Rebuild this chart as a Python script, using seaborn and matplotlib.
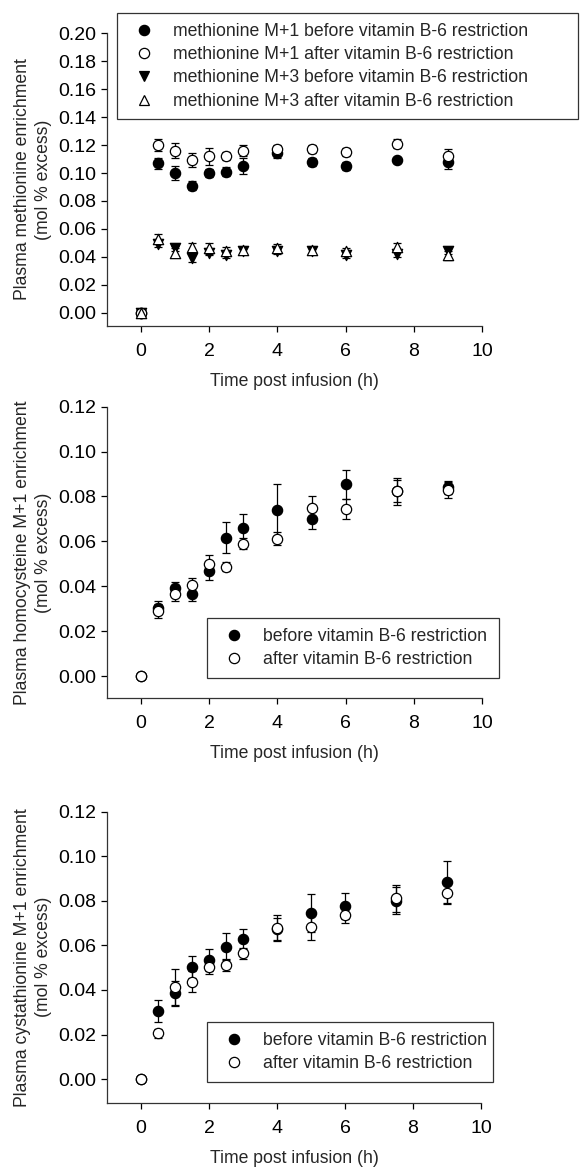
import numpy as np
import pandas as pd
import matplotlib
matplotlib.use("Agg")
import matplotlib.pyplot as plt
from matplotlib.lines import Line2D
import seaborn as sns

# ---------------- data ----------------
time_h = [0, 0.5, 1, 1.5, 2, 2.5, 3, 4, 5, 6, 7.5, 9]

met_m1_before = [0.000, 0.107, 0.100, 0.091, 0.100, 0.101, 0.105, 0.114, 0.108, 0.105, 0.109, 0.108]
met_m1_before_sem = [0.000, 0.004, 0.005, 0.003, 0.003, 0.003, 0.006, 0.003, 0.003, 0.003, 0.002, 0.005]
met_m1_after = [0.000, 0.120, 0.116, 0.109, 0.112, 0.112, 0.116, 0.117, 0.117, 0.115, 0.121, 0.112]
met_m1_after_sem = [0.000, 0.0045, 0.0055, 0.005, 0.006, 0.003, 0.004, 0.003, 0.003, 0.003, 0.003, 0.005]
met_m3_before = [0.000, 0.049, 0.046, 0.039, 0.043, 0.041, 0.044, 0.044, 0.044, 0.041, 0.042, 0.044]
met_m3_before_sem = [0.000, 0.002, 0.002, 0.003, 0.002, 0.002, 0.002, 0.002, 0.002, 0.002, 0.002, 0.002]
met_m3_after = [0.000, 0.053, 0.043, 0.047, 0.046, 0.044, 0.045, 0.046, 0.045, 0.044, 0.047, 0.041]
met_m3_after_sem = [0.000, 0.003, 0.003, 0.003, 0.004, 0.003, 0.002, 0.003, 0.002, 0.002, 0.003, 0.003]

hcy_before = [0.000, 0.0305, 0.039, 0.0365, 0.047, 0.0616, 0.066, 0.074, 0.070, 0.0855, 0.0825, 0.084]
hcy_before_sem = [0.000, 0.003, 0.003, 0.003, 0.004, 0.007, 0.006, 0.0115, 0.0045, 0.0065, 0.005, 0.003]
hcy_after = [0.000, 0.029, 0.0367, 0.0407, 0.0498, 0.0486, 0.059, 0.0612, 0.0748, 0.0744, 0.0824, 0.083]
hcy_after_sem = [0.000, 0.003, 0.0035, 0.003, 0.004, 0.002, 0.0025, 0.003, 0.0055, 0.0045, 0.006, 0.0035]

cys_before = [0.000, 0.0307, 0.0385, 0.0504, 0.0534, 0.0594, 0.0629, 0.0675, 0.0747, 0.0777, 0.080, 0.0883]
cys_before_sem = [0.000, 0.005, 0.0055, 0.005, 0.005, 0.006, 0.0045, 0.005, 0.0085, 0.0057, 0.006, 0.0095]
cys_after = [0.000, 0.0205, 0.0412, 0.0437, 0.0502, 0.0512, 0.0564, 0.0677, 0.0681, 0.0736, 0.0811, 0.0837]
cys_after_sem = [0.000, 0.002, 0.008, 0.0048, 0.003, 0.0025, 0.0025, 0.0058, 0.0057, 0.0035, 0.006, 0.0048]

xticks = [0, 2, 4, 6, 8, 10]
xlabel = "Time post infusion (h)"
ylabel_top = "Plasma methionine enrichment\n(mol % excess)"
ylabel_mid = "Plasma homocysteine M+1 enrichment\n(mol % excess)"
ylabel_bot = "Plasma cystathionine M+1 enrichment\n(mol % excess)"

top_labels = ["methionine M+1 before vitamin B-6 restriction",
              "methionine M+1 after vitamin B-6 restriction",
              "methionine M+3 before vitamin B-6 restriction",
              "methionine M+3 after vitamin B-6 restriction"]
pair_labels = ["before vitamin B-6 restriction", "after vitamin B-6 restriction"]

# ---------------- style ----------------
sns.set_style("ticks")
plt.rcParams["font.family"] = ["Liberation Sans", "DejaVu Sans"]
FS = 12.7
TFS = 14
plt.rcParams.update({
    "font.size": FS,
    "axes.linewidth": 0.9,
    "axes.edgecolor": "#333333",
    "xtick.major.size": 4.5,
    "ytick.major.size": 4.5,
    "xtick.major.width": 0.9,
    "ytick.major.width": 0.9,
    "xtick.major.pad": 8,
    "ytick.major.pad": 3.5,
    "xtick.labelsize": TFS,
    "ytick.labelsize": TFS,
})

W, H = 582, 1167
fig = plt.figure(figsize=(W / 100, H / 100), dpi=100)


def add_ax(left_px, right_px, top_px, bottom_px):
    return fig.add_axes([left_px / W, 1 - bottom_px / H,
                         (right_px - left_px) / W, (bottom_px - top_px) / H])


ax1 = add_ax(107, 482, 33.3, 325.7)
ax2 = add_ax(107, 482, 406.7, 698)
ax3 = add_ax(107, 481, 811.7, 1102.7)

MS = 55
EW = 0.9


def series(ax, y, e, marker, filled):
    ax.errorbar(time_h, y, yerr=e, fmt="none", ecolor="black", elinewidth=EW,
                capsize=3.2, capthick=EW, zorder=2)
    df = pd.DataFrame({"t": time_h, "v": y})
    sns.scatterplot(data=df, x="t", y="v", ax=ax, marker=marker, s=MS,
                    color="black" if filled else "white", edgecolor="black",
                    linewidth=0.9, zorder=3, legend=False)


series(ax1, met_m1_before, met_m1_before_sem, "o", True)
series(ax1, met_m3_before, met_m3_before_sem, "v", True)
series(ax1, met_m1_after, met_m1_after_sem, "o", False)
series(ax1, met_m3_after, met_m3_after_sem, "^", False)

series(ax2, hcy_before, hcy_before_sem, "o", True)
series(ax2, hcy_after, hcy_after_sem, "o", False)

series(ax3, cys_before, cys_before_sem, "o", True)
series(ax3, cys_after, cys_after_sem, "o", False)

for ax, ymin, ymax, yt, ylab in [(ax1, -0.0093, 0.20, np.arange(0, 0.2001, 0.02), ylabel_top),
                                 (ax2, -0.0098, 0.12, np.arange(0, 0.1201, 0.02), ylabel_mid),
                                 (ax3, -0.0106, 0.12, np.arange(0, 0.1201, 0.02), ylabel_bot)]:
    ax.set_xlim(-1, 10)
    ax.set_ylim(ymin, ymax)
    ax.set_xticks(xticks)
    ax.set_yticks(yt)
    ax.set_yticklabels([f"{v:.2f}" for v in yt])
    ax.set_xlabel(xlabel, fontsize=FS, labelpad=9)
    ax.set_ylabel(ylab, fontsize=FS, labelpad=4.5, linespacing=1.25)
    sns.despine(ax=ax)
    ax.tick_params(colors="black", direction="out")


def mk(marker, filled):
    return Line2D([], [], linestyle="none", marker=marker, markersize=7.4,
                  markerfacecolor="black" if filled else "white",
                  markeredgecolor="black", markeredgewidth=0.9)


leg_kw = dict(frameon=True, fancybox=False, shadow=False, framealpha=1,
              edgecolor="#333333", fontsize=FS, labelspacing=0.36,
              handlelength=2.0, handletextpad=0.62, borderpad=0.55,
              borderaxespad=0)

h_top = [mk("o", True), mk("o", False), mk("v", True), mk("^", False)]
l1 = fig.legend(h_top, top_labels, loc="upper left",
                bbox_to_anchor=(117 / W, 1 - 119 / H, (578 - 117) / W, (119 - 13) / H),
                mode="expand", **leg_kw)
l1.get_frame().set_linewidth(0.9)

h_pair = [mk("o", True), mk("o", False)]
l2 = fig.legend(h_pair, pair_labels, loc="upper left",
                bbox_to_anchor=(207 / W, 1 - 678 / H, (499 - 207) / W, 60 / H),
                mode="expand", **leg_kw)
l2.get_frame().set_linewidth(0.9)
l3 = fig.legend(h_pair, pair_labels, loc="upper left",
                bbox_to_anchor=(207 / W, 1 - 1082 / H, (493 - 207) / W, 60 / H),
                mode="expand", **leg_kw)
l3.get_frame().set_linewidth(0.9)

fig.savefig("out.png", dpi=100)
